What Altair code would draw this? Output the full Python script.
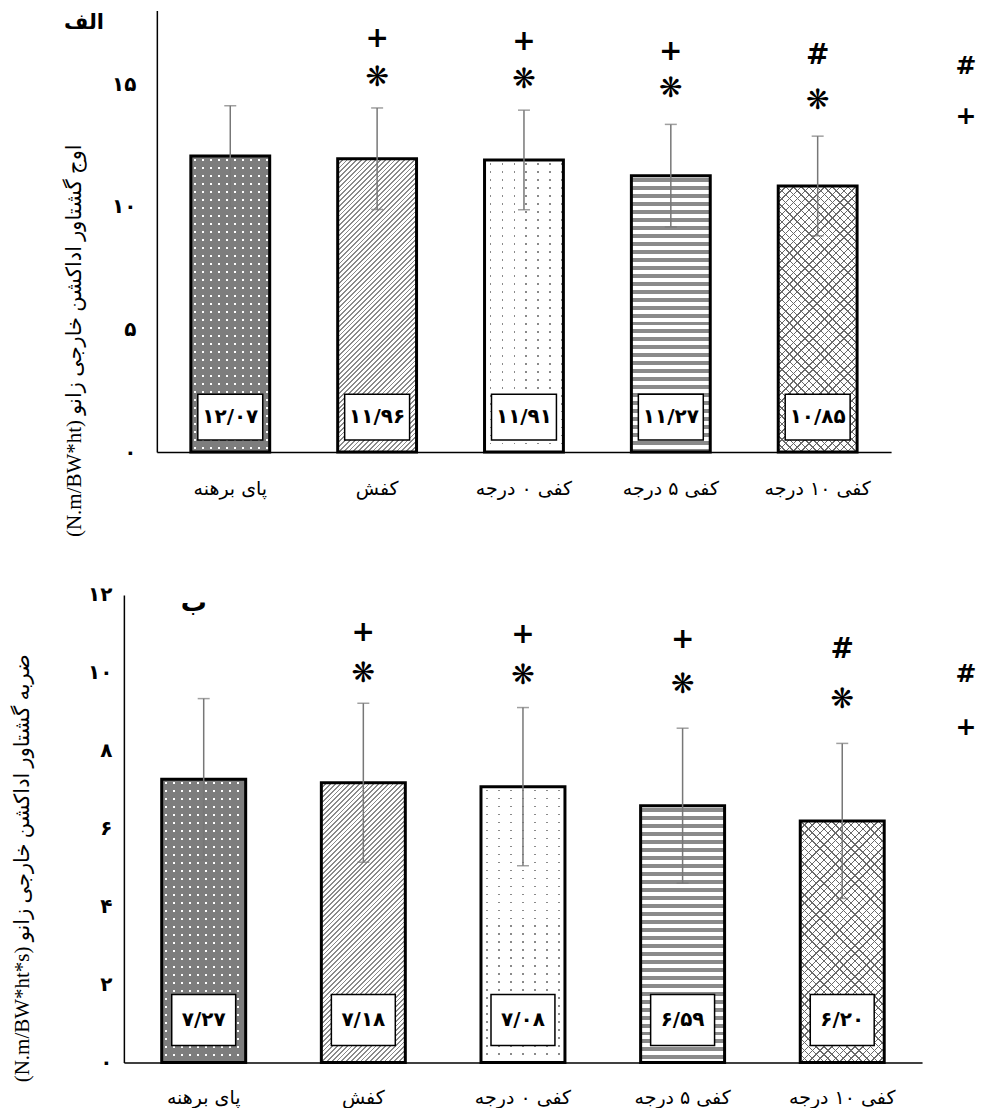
import math
import altair as alt
import pandas as pd

# ---------------- data ----------------
cats = ["پای برهنه", "کفش", "کفی ۰ درجه", "کفی ۵ درجه", "کفی ۱۰ درجه"]

mean_a = [12.07, 11.96, 11.91, 11.27, 10.85]
sd_a = [2.05, 2.07, 2.03, 2.09, 2.03]
mean_b = [7.27, 7.18, 7.08, 6.59, 6.20]
sd_b = [2.07, 2.04, 2.03, 1.99, 1.99]

# significance markers (value-axis position of each marker)
star_sym = ["", "❋", "❋", "❋", "❋"]
sig_sym = ["", "+", "+", "+", "#"]
star_a_y = [None, 15.27, 15.15, 14.82, 14.33]
sig_a_y = [None, 16.86, 16.73, 16.33, 16.16]
star_b_y = [None, 9.97, 9.92, 9.69, 9.31]
sig_b_y = [None, 11.03, 10.97, 10.85, 10.59]
key_sym = ["#", "+"]
key_a_y = [15.76, 13.72]
key_b_y = [9.97, 8.62]

ticks_a = [0, 5, 10, 15]
ticks_b = [0, 2, 4, 6, 8, 10, 12]

title_a = "(N.m/BW*ht) اوج گشتاور اداکشن خارجی زانو"
title_b = "(N.m/BW*ht*s) ضربه گشتاور اداکشن خارجی زانو"

# ---------------- helpers ----------------
FA = str.maketrans("0123456789", "۰۱۲۳۴۵۶۷۸۹")


def fa(v):
    return f"{v:.2f}".replace(".", "/").translate(FA)


LABEL_EXPR = "datum.label"
for d in "0123456789":
    LABEL_EXPR = f"replace({LABEL_EXPR}, '{d}', '{d.translate(FA)}')"

T = "rgba(255,255,255,0)"
AR_FONT = "DejaVu Sans"
TITLE_FONT = "'Liberation Serif', 'DejaVu Sans'"


def stops_1d(length, period, thick, phase, on, off):
    s = [{"offset": 0, "color": off}]
    p = phase
    while p < length:
        a = round(max(0.0, p / length), 5)
        b = round(min(1.0, (p + thick) / length), 5)
        s += [{"offset": a, "color": off}, {"offset": a, "color": on},
              {"offset": b, "color": on}, {"offset": b, "color": off}]
        p += period
    s.append({"offset": 1, "color": off})
    return s


def grad(direction, w, h, period, thick, on, off, phase=0.0):
    if direction == "v":
        L = w
        c = dict(x1=0, y1=0, x2=1, y2=0)
    elif direction == "h":
        L = h
        c = dict(x1=0, y1=0, x2=0, y2=1)
    else:
        L = (w + h) / math.sqrt(2)
        k = (w + h) / (w * w + h * h)
        if direction == "d1":
            c = dict(x1=0, y1=0, x2=round(k * w, 5), y2=round(k * h, 5))
        else:
            c = dict(x1=0, y1=1, x2=round(k * w, 5), y2=round(1 - k * h, 5))
    g = {"gradient": "linear"}
    g.update(c)
    g["stops"] = stops_1d(L, period, thick, phase, on, off)
    return g


GREY = "#7d7d7d"
patterns = [
    [("v", 8, 2, "#ffffff", GREY, 3), ("h", 8, 2, T, GREY, 3)],
    [("d1", 3.4, 1.3, "#8a8a8a", "#ffffff", 0)],
    [("v", 12, 1.8, "#8a8a8a", "#ffffff", 5), ("h", 8, 1.8, T, "#ffffff", 3)],
    [("h", 8, 4, "#8a8a8a", "#ffffff", 2)],
    [("d1", 5.5, 1.0, "#6a6a6a", "#ffffff", 0), ("d2", 5.5, 1.0, "#6a6a6a", T, 0)],
]


def panel(means, sds, ymax, yticks, W, H, rng, pin, pout, axis_off, lab_pad,
          title, title_x, title_y, xlab_pad, box_w, box_h, box_b,
          star_y, sig_y, key_y, key_x, letter, letter_x, letter_y, letter_size):
    df = pd.DataFrame({
        "cat": cats,
        "mean": means,
        "lo": [m - s for m, s in zip(means, sds)],
        "hi": [m + s for m, s in zip(means, sds)],
        "lab": [fa(m) for m in means],
    })
    r0, r1 = (rng if rng else (0, W))
    step = (r1 - r0) / (len(cats) - pin + 2 * pout)
    bw = step * (1 - pin)

    sc_args = dict(domain=cats, paddingInner=pin, paddingOuter=pout)
    if rng:
        sc_args["range"] = list(rng)
    xs = alt.Scale(**sc_args)
    ys = alt.Scale(domain=[0, ymax], nice=False, zero=True)

    xaxis = alt.Axis(title=None, labelAngle=0, labelFont=AR_FONT, labelFontSize=19,
                     labelColor="black", labelPadding=xlab_pad, ticks=False,
                     domainColor="black", domainWidth=1.5, grid=False, labelLimit=300)
    yaxis = alt.Axis(title=title, values=yticks, labelExpr=LABEL_EXPR, labelFont=AR_FONT,
                     labelFontSize=20, labelFontWeight="bold", labelColor="black",
                     labelPadding=lab_pad, ticks=False, tickSize=0, domainColor="black",
                     domainWidth=1.5, grid=False, offset=axis_off,
                     titleX=title_x, titleY=title_y, titleAngle=-90, titleAlign="center",
                     titleBaseline="middle", titleFont=TITLE_FONT, titleFontSize=21,
                     titleFontWeight="normal", titleColor="black")
    X = alt.X("cat:N", sort=cats, scale=xs, axis=xaxis)

    def Y(f):
        return alt.Y(f, type="quantitative", scale=ys, axis=yaxis)

    layers = []
    for i, c in enumerate(cats):
        h = means[i] / ymax * H
        pats = patterns[i]
        for j, (d, per, th, on, off, ph) in enumerate(pats):
            last = j == len(pats) - 1
            g = grad(d, bw, h, per, th, on, off, ph)
            if last:
                mk = alt.Chart(df).mark_bar(fill=g, stroke="black", strokeWidth=3)
            else:
                mk = alt.Chart(df).mark_bar(fill=g, strokeWidth=0)
            layers.append(mk.transform_filter(
                alt.FieldEqualPredicate(field="cat", equal=c)).encode(x=X, y=Y("mean")))

    layers.append(alt.Chart(df).mark_rule(color="#777777", strokeWidth=1.5)
                  .encode(x=X, y=Y("lo"), y2="hi:Q"))
    layers.append(alt.Chart(df).mark_tick(color="#777777", size=12, thickness=1.5)
                  .encode(x=X, y=Y("hi")))
    layers.append(alt.Chart(df).mark_tick(color="#777777", size=12, thickness=1.5)
                  .encode(x=X, y=Y("lo")))

    layers.append(alt.Chart(df).mark_bar(width=box_w, fill="white", stroke="black",
                                         strokeWidth=1.5)
                  .encode(x=X, y=alt.value(H - box_b - box_h), y2=alt.value(H - box_b)))
    layers.append(alt.Chart(df).mark_text(font=AR_FONT, fontSize=20, fontWeight="bold",
                                          color="black", baseline="middle")
                  .encode(x=X, y=alt.value(H - box_b - box_h / 2), text="lab:N"))

    sdf = pd.DataFrame({"cat": cats * 2, "y": star_y + sig_y, "sym": star_sym + sig_sym})
    sdf = sdf[sdf["y"].notna()]
    layers.append(alt.Chart(sdf).mark_text(font="DejaVu Sans", fontSize=28, color="black",
                                           fontWeight="bold", baseline="middle")
                  .encode(x=X, y=Y("y"), text="sym:N"))

    kdf = pd.DataFrame({"y": key_y, "sym": key_sym})
    layers.append(alt.Chart(kdf).mark_text(font="DejaVu Sans", fontSize=25, color="black",
                                           fontWeight="bold", baseline="middle")
                  .encode(x=alt.value(key_x), y=Y("y"), text="sym:N"))

    ldf = pd.DataFrame({"t": [letter]})
    layers.append(alt.Chart(ldf).mark_text(font=AR_FONT, fontSize=letter_size,
                                           fontWeight="bold", color="black",
                                           baseline="middle")
                  .encode(x=alt.value(letter_x), y=alt.value(letter_y), text="t:N"))

    return alt.layer(*layers).properties(width=W, height=H)


top = panel(mean_a, sd_a, 18, ticks_a, 768, 442, (33, 768), 0.463, 0.2315, -33, 21,
            title_a, -82, 330, 27, 65, 46, 12,
            star_a_y, sig_a_y, key_a_y, 843, "الف", -40, 12, 21)
bottom = panel(mean_b, sd_b, 12, ticks_b, 799, 468, None, 0.474, 0.237, 0, 12,
               title_b, -101, 273, 26, 64, 51, 17,
               star_b_y, sig_b_y, key_b_y, 843, "ب", 70, 8, 26)

chart = alt.vconcat(top, bottom, spacing=143, bounds="flush").properties(
    padding={"left": 4, "top": 2, "right": 0, "bottom": 0}
).configure_view(stroke=None)

chart.save("out.html", embed_options={"renderer": "svg", "actions": False})
